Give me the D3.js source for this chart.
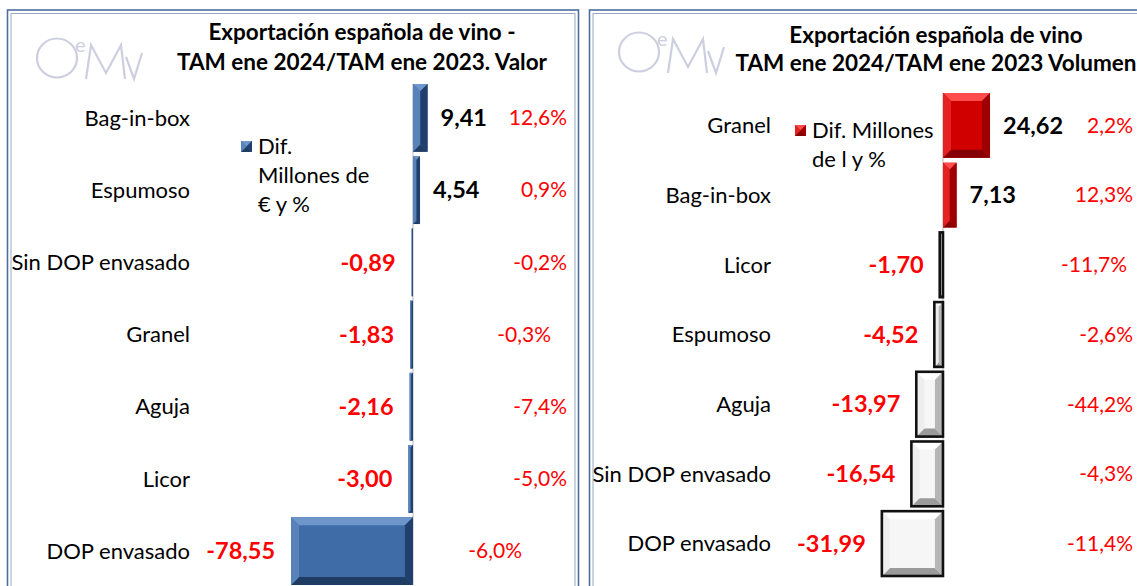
<!DOCTYPE html>
<html>
  <head>
    <meta charset="utf-8">
    <title>Exportación española de vino</title>
    <script src="https://d3js.org/d3.v7.min.js"></script>
    <style>
      body { margin: 0; background: #fff; }
      svg { display: block; font-family: Lato, "Open Sans", sans-serif; }
      .cat { font-size: 22px; fill: #000; }
      .val { font-size: 23.5px; font-weight: bold; }
      .pct { font-size: 21px; fill: #ff0000; }
      .title { font-size: 22.5px; font-weight: bold; fill: #000; }
      .legend { font-size: 22px; fill: #000; }
    </style>
  </head>
  <body>
    <div id="chart"></div>
    <script>
      // data: valor (millones de €)
      const valorCategories = ["Bag-in-box", "Espumoso", "Sin DOP envasado", "Granel", "Aguja", "Licor", "DOP envasado"];
      const valorDiff = [9.41, 4.54, -0.89, -1.83, -2.16, -3.00, -78.55];
      const valorPct = ["12,6%", "0,9%", "-0,2%", "-0,3%", "-7,4%", "-5,0%", "-6,0%"];
      // data: volumen (millones de l)
      const volumenCategories = ["Granel", "Bag-in-box", "Licor", "Espumoso", "Aguja", "Sin DOP envasado", "DOP envasado"];
      const volumenDiff = [24.62, 7.13, -1.70, -4.52, -13.97, -16.54, -31.99];
      const volumenPct = ["2,2%", "12,3%", "-11,7%", "-2,6%", "-44,2%", "-4,3%", "-11,4%"];

      const esLocale = d3.formatLocale({ decimal: ",", thousands: ".", grouping: [3], currency: ["", " €"], minus: "-" });
      const fmt = esLocale.format(".2f");

      const svg = d3.select("#chart").append("svg")
        .attr("width", 1137)
        .attr("height", 586);

      // panel frames (double border)
      function frame(x, w) {
        svg.append("rect").attr("x", x).attr("y", 10).attr("width", w).attr("height", 600)
          .attr("fill", "none").attr("stroke", "#4d6e9f").attr("stroke-width", 1.6);
        svg.append("rect").attr("x", x + 3.5).attr("y", 13.5).attr("width", w - 7).attr("height", 600)
          .attr("fill", "none").attr("stroke", "#9aaac4").attr("stroke-width", 1);
      }
      frame(7.5, 571);
      frame(589.5, 600);

      // OeMv logo
      function logo(x, y) {
        const g = svg.append("g").attr("transform", "translate(" + x + "," + y + ")")
          .attr("fill", "none").attr("stroke", "#cdcfe0").attr("stroke-width", 2.2);
        g.append("ellipse").attr("cx", 21).attr("cy", 21).attr("rx", 20).attr("ry", 19.5);
        g.append("text").attr("x", 39).attr("y", 15).attr("fill", "#cdcfe0").attr("stroke", "none")
          .style("font-size", "20px").text("e");
        g.append("polyline").attr("points", "50,42 55,8 70,36 85,8 89,42");
        g.append("polyline").attr("points", "90,20 98,42 106,16");
      }
      logo(36, 37);
      logo(618, 31);

      // bevelled bar
      function bevelBar(g, x0, x1, y0, y1, c) {
        const w = x1 - x0, h = y1 - y0;
        const b = Math.min(8, w / 2, h / 2);
        g.append("rect").attr("x", x0).attr("y", y0).attr("width", w).attr("height", h).attr("fill", c.center);
        const polys = [
          [[x0, y0], [x1, y0], [x1 - b, y0 + b], [x0 + b, y0 + b], c.top],
          [[x0, y1], [x1, y1], [x1 - b, y1 - b], [x0 + b, y1 - b], c.bottom],
          [[x0, y0], [x0 + b, y0 + b], [x0 + b, y1 - b], [x0, y1], c.left],
          [[x1, y0], [x1 - b, y0 + b], [x1 - b, y1 - b], [x1, y1], c.right]
        ];
        polys.forEach(function(p) {
          g.append("polygon")
            .attr("points", p.slice(0, 4).map(function(q) { return q.join(","); }).join(" "))
            .attr("fill", p[4]);
        });
        if (c.stroke) {
          g.append("rect").attr("x", x0).attr("y", y0).attr("width", w).attr("height", h)
            .attr("fill", "none").attr("stroke", c.stroke).attr("stroke-width", 2.6);
        }
      }

      function drawPanel(p) {
        const g = svg.append("g");
        const x = d3.scaleLinear().domain(p.domain).range(p.xRange);
        const y = d3.scaleBand().domain(p.categories).range(p.yRange).paddingInner(p.pad).paddingOuter(0);
        const rows = p.categories.map(function(c, i) { return { cat: c, v: p.values[i], pct: p.pct[i], i: i }; });

        // titles
        p.titles.forEach(function(t, i) {
          g.append("text").attr("class", "title").attr("x", p.titleX).attr("y", p.titleY[i])
            .attr("text-anchor", "middle").text(t);
        });

        // zero line
        g.append("line").attr("x1", x(0)).attr("x2", x(0))
          .attr("y1", p.yRange[0]).attr("y2", p.yRange[1])
          .attr("stroke", "#cfcfcf").attr("stroke-width", 1.5);

        rows.forEach(function(d) {
          const x0 = Math.min(x(0), x(d.v)), x1 = Math.max(x(0), x(d.v));
          bevelBar(g, x0, x1, y(d.cat), y(d.cat) + y.bandwidth(), d.v < 0 ? p.negColors : p.posColors);
        });

        const cy = function(d) { return y(d.cat) + y.bandwidth() / 2; };

        g.selectAll(".cat").data(rows).enter().append("text")
          .attr("class", "cat").attr("x", p.catX).attr("y", cy).attr("dy", "0.35em")
          .attr("text-anchor", "end").text(function(d) { return d.cat; });

        g.selectAll(".val").data(rows).enter().append("text")
          .attr("class", "val")
          .attr("x", function(d) { return d.v < 0 ? x(d.v) - 16 : x(d.v) + 13; })
          .attr("y", cy).attr("dy", "0.35em")
          .attr("text-anchor", function(d) { return d.v < 0 ? "end" : "start"; })
          .attr("fill", function(d) { return d.v < 0 ? "#ff0000" : "#000"; })
          .text(function(d) { return fmt(d.v); });

        g.selectAll(".pct").data(rows).enter().append("text")
          .attr("class", "pct")
          .attr("x", function(d) { return p.pctX + p.pctNudge[d.i]; })
          .attr("y", cy).attr("dy", "0.35em")
          .attr("text-anchor", "end")
          .text(function(d) { return d.pct; });

        // legend
        const lg = g.append("g");
        bevelBar(lg, p.legendX, p.legendX + 11, p.legendY, p.legendY + 11, p.legendColors);
        p.legendLines.forEach(function(t, i) {
          lg.append("text").attr("class", "legend")
            .attr("x", p.legendX + 17).attr("y", p.legendY + 13 + i * 29)
            .text(t);
        });
      }

      const blue = { center: "#3f6ca6", top: "#6f96ca", left: "#5882b9", bottom: "#1f3c64", right: "#203f6c" };
      const red = { center: "#d10000", top: "#ff4c4c", left: "#e42222", bottom: "#850000", right: "#9c0000" };
      const white = { center: "#f6f6f6", top: "#ffffff", left: "#eeeeee", bottom: "#9b9b9b", right: "#b5b5b5", stroke: "#111" };

      drawPanel({
        categories: valorCategories, values: valorDiff, pct: valorPct,
        domain: [-80, 10], xRange: [288.8, 428.5], yRange: [84, 585], pad: 0.06,
        catX: 190, pctX: 567, pctNudge: [0, 0, 0, -16, 0, 0, -45],
        titles: ["Exportación española de vino -", "TAM ene 2024/TAM ene 2023. Valor"],
        titleX: 362, titleY: [40, 70],
        posColors: blue, negColors: blue, legendColors: blue,
        legendX: 241, legendY: 141, legendLines: ["Dif.", "Millones de", "€ y %"]
      });

      drawPanel({
        categories: volumenCategories, values: volumenDiff, pct: volumenPct,
        domain: [-35, 30], xRange: [876.1, 1000.3], yRange: [93, 576], pad: 0.07,
        catX: 771, pctX: 1133, pctNudge: [0, 0, -6, 0, 0, 0, 0],
        titles: ["Exportación española de vino", "TAM ene 2024/TAM ene 2023 Volumen"],
        titleX: 936, titleY: [43, 71],
        posColors: red, negColors: white, legendColors: red,
        legendX: 795, legendY: 125, legendLines: ["Dif. Millones", "de l y %"]
      });
    </script>
  </body>
</html>
